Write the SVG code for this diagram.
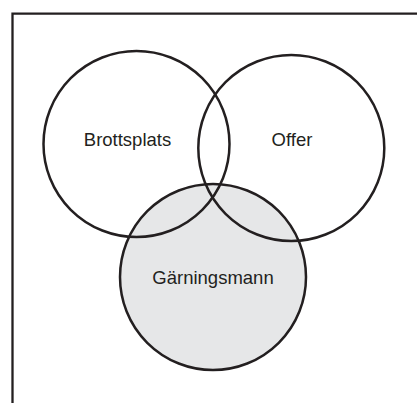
<svg xmlns="http://www.w3.org/2000/svg" width="417" height="403" viewBox="0 0 417 403">
<style>
.c{stroke:#231f20;stroke-width:2.5}
.t{font-family:"Liberation Sans",Arial,sans-serif;font-size:18.5px;fill:#231f20;text-anchor:middle}
</style>
<rect width="417" height="403" fill="#ffffff"/>
<path d="M12.5,403 V13.7 H417" fill="none" stroke="#231f20" stroke-width="2.3"/>
<g id="garningsmann">
<circle class="c" cx="213" cy="277" r="93" fill="#e6e7e8"/>
</g>
<g id="brottsplats">
<circle class="c" cx="136.5" cy="144" r="93" fill="none"/>
</g>
<g id="offer">
<circle class="c" cx="291.3" cy="148" r="93" fill="none"/>
</g>
<g id="labels">
<text class="t" x="127.5" y="146">Brottsplats</text>
<text class="t" x="292" y="146">Offer</text>
<text class="t" x="213" y="284">Gärningsmann</text>
</g>
<g id="connectors"/>
</svg>
